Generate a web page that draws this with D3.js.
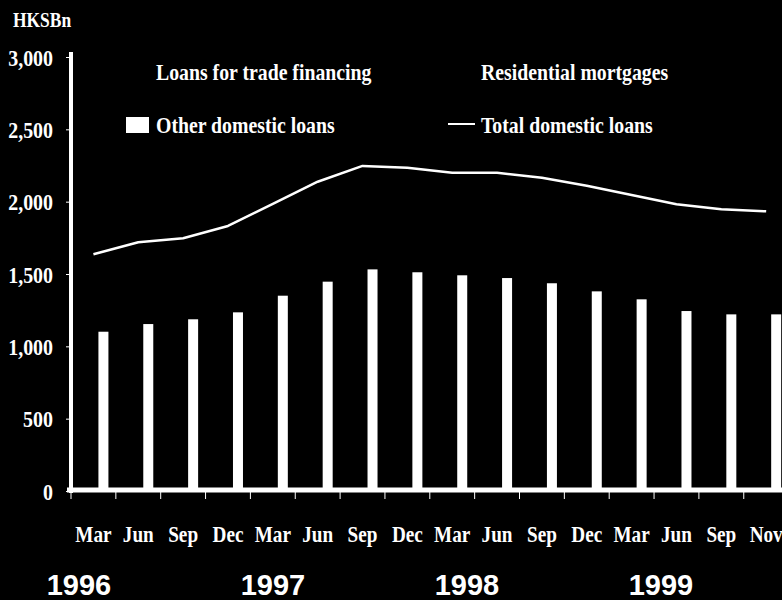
<!DOCTYPE html>
<html>
<head>
<meta charset="utf-8">
<script src="https://cdn.jsdelivr.net/npm/d3@7"></script>
<style>
  html, body { margin: 0; padding: 0; background: #000; }
  svg { display: block; }
</style>
</head>
<body>
<svg id="chart" width="782" height="600"></svg>
<script>
// ---- data ----
const months = ["Mar","Jun","Sep","Dec","Mar","Jun","Sep","Dec","Mar","Jun","Sep","Dec","Mar","Jun","Sep","Nov"];
const periods = months.map((m, i) => m + "-" + i);
const otherDomestic = [1101,1154,1187,1235,1350,1447,1532,1512,1491,1472,1436,1380,1325,1244,1221,1221];
const totalDomestic = [1636,1719,1747,1832,1984,2138,2247,2235,2200,2200,2166,2110,2046,1982,1947,1933];
const seriesKeys = ["Loans for trade financing","Residential mortgages","Other domestic loans"];
const yTicks = [0,500,1000,1500,2000,2500,3000];
const years = ["1996","1997","1998","1999"];

// ---- layout ----
const svg = d3.select("#chart");
const W = 782, H = 600;
svg.append("rect").attr("width", W).attr("height", H).attr("fill", "#000");

const x0 = 71, step = 44.85;
const x = d3.scaleBand().domain(periods).range([x0, x0 + step * periods.length]).padding(0);
const xSub = d3.scaleBand().domain(seriesKeys).range([0, x.bandwidth()]).paddingInner(0).paddingOuter(0.7425);
const y = d3.scaleLinear().domain([0, 3000]).range([491, 57]);

const serif = "'Liberation Serif','Times New Roman',serif";

// bars (other domestic loans visible in white)
svg.append("g").selectAll("rect").data(otherDomestic).join("rect")
  .attr("x", (d, i) => x(periods[i]) + xSub("Other domestic loans"))
  .attr("y", d => y(d))
  .attr("width", xSub.bandwidth())
  .attr("height", d => y(0) - y(d))
  .attr("fill", "#fff");

// line
const line = d3.line()
  .x((d, i) => x(periods[i]) + x.bandwidth() / 2)
  .y(d => y(d))
  .curve(d3.curveLinear);
svg.append("path").datum(totalDomestic)
  .attr("d", line).attr("fill", "none").attr("stroke", "#fff").attr("stroke-width", 2.5)
  .attr("stroke-linejoin", "round");

// y axis
const yAxis = d3.axisLeft(y).tickValues(yTicks).tickSize(4).tickFormat(d3.format(","));
const gy = svg.append("g").attr("transform", `translate(${x0 - 1},0)`).call(yAxis);
gy.select(".domain").remove();
gy.selectAll(".tick line").attr("stroke", "#fff").attr("stroke-width", 1);
gy.selectAll(".tick text").remove();
gy.selectAll(".tick").append("text")
  .attr("transform", `translate(-17,8) scale(0.83,1)`)
  .attr("text-anchor", "end")
  .attr("fill", "#fff")
  .attr("font-family", serif).attr("font-weight", "bold").attr("font-size", 24)
  .text(d => d3.format(",")(d));
svg.append("line").attr("x1", x0).attr("x2", x0).attr("y1", 52).attr("y2", 493)
  .attr("stroke", "#fff").attr("stroke-width", 4);

// x axis
const xTickPos = periods.map(p => x(p));
svg.append("g").selectAll("line").data(xTickPos).join("line")
  .attr("x1", d => d).attr("x2", d => d).attr("y1", 491).attr("y2", 499)
  .attr("stroke", "#fff").attr("stroke-width", 1);
svg.append("line").attr("x1", 67).attr("x2", W).attr("y1", y(0) - 1).attr("y2", y(0) - 1)
  .attr("stroke", "#fff").attr("stroke-width", 5);

svg.append("g").selectAll("text").data(months).join("text")
  .attr("transform", (d, i) => `translate(${x(periods[i]) + x.bandwidth() / 2},542) scale(0.8,1)`)
  .attr("text-anchor", "middle").attr("fill", "#fff")
  .attr("font-family", serif).attr("font-weight", "bold").attr("font-size", 24)
  .text(d => d);

const yearX = d3.scalePoint().domain(years).range([79, 661]);
svg.append("g").selectAll("text").data(years).join("text")
  .attr("x", d => yearX(d)).attr("y", 595)
  .attr("text-anchor", "middle").attr("fill", "#fff")
  .attr("font-family", "'Liberation Sans',Arial,sans-serif").attr("font-weight", "bold").attr("font-size", 29)
  .text(d => d);

// unit label
svg.append("text").attr("transform", `translate(13,27) scale(0.83,1)`)
  .attr("fill", "#fff").attr("font-family", serif).attr("font-weight", "bold").attr("font-size", 21)
  .text("HKSBn");

// legend
const legend = [
  {label: seriesKeys[0], type: "rect", color: "#000", tx: 156, ty: 80},
  {label: seriesKeys[1], type: "rect", color: "#000", tx: 481, ty: 80},
  {label: seriesKeys[2], type: "rect", color: "#fff", tx: 156, ty: 133},
  {label: "Total domestic loans", type: "line", color: "#fff", tx: 481, ty: 133}
];
const lg = svg.append("g").selectAll("g").data(legend).join("g");
lg.filter(d => d.type === "rect").append("rect")
  .attr("x", d => d.tx - 30).attr("y", d => d.ty - 16).attr("width", 23).attr("height", 16)
  .attr("fill", d => d.color);
lg.filter(d => d.type === "line").append("line")
  .attr("x1", d => d.tx - 33).attr("x2", d => d.tx - 6).attr("y1", d => d.ty - 9).attr("y2", d => d.ty - 9)
  .attr("stroke", d => d.color).attr("stroke-width", 2);
lg.append("text")
  .attr("transform", d => `translate(${d.tx},${d.ty}) scale(0.86,1)`)
  .attr("fill", "#fff").attr("font-family", serif).attr("font-weight", "bold").attr("font-size", 23)
  .text(d => d.label);
</script>
</body>
</html>
